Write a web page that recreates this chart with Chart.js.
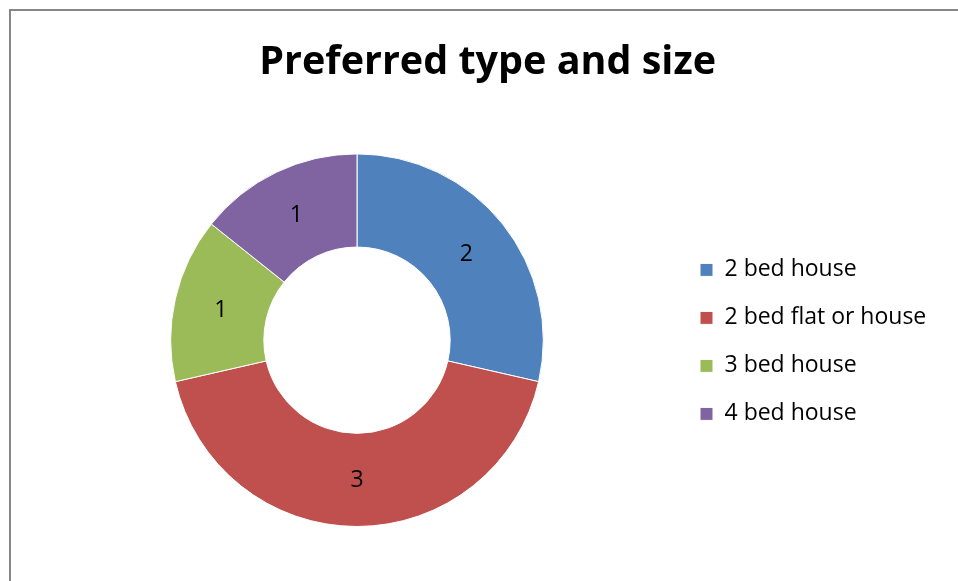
<!DOCTYPE html>
<html lang="en">
<head>
    <meta charset="UTF-8">
    <title>Preferred type and size</title>
    <script src="https://cdn.jsdelivr.net/npm/chart.js"></script>
    <style>
        html, body { margin: 0; padding: 0; background: #fff; overflow: hidden; }
        #frame {
            position: absolute; left: 9px; top: 9px;
            width: 1000px; height: 1000px;
            border-top: 2px solid #878787; border-left: 2px solid #878787;
        }
        #wrap { position: absolute; left: 0; top: 0; width: 958px; height: 581px; }
    </style>
</head>
<body>
    <div id="frame"></div>
    <div id="wrap"><canvas id="chart"></canvas></div>

    <script>
        // Data
        const categories = ['2 bed house', '2 bed flat or house', '3 bed house', '4 bed house'];
        const counts = [2, 3, 1, 1];
        const sliceColors = ['#4F81BD', '#C0504D', '#9BBB59', '#8064A2'];

        const FONT = 'Open Sans';
        const legendSize = 23;
        const legendBox = 13;
        const legendPad = 25;

        // work out right padding so legend squares land at x=700
        const mctx = document.createElement('canvas').getContext('2d');
        mctx.font = legendSize + 'px "' + FONT + '"';
        const textW = Math.max(...categories.map(c => mctx.measureText(c).width));
        const padRight = Math.max(0, 958 - 700 - legendBox - legendSize / 2 - textW - 10);
        const chartRight = 700 - legendPad;
        const padLeft = 2 * 357 - chartRight;

        // value labels in the middle of each slice
        const sliceLabels = {
            id: 'sliceLabels',
            afterDatasetsDraw(chart) {
                const ctx = chart.ctx;
                const meta = chart.getDatasetMeta(0);
                ctx.save();
                ctx.font = '23px "' + FONT + '"';
                ctx.fillStyle = '#000';
                ctx.textAlign = 'center';
                ctx.textBaseline = 'middle';
                meta.data.forEach((arc, i) => {
                    const p = arc.tooltipPosition();
                    ctx.fillText(String(counts[i]), p.x, p.y + 1);
                });
                ctx.restore();
            }
        };

        new Chart(document.getElementById('chart'), {
            type: 'doughnut',
            data: {
                labels: categories,
                datasets: [{
                    data: counts,
                    backgroundColor: sliceColors,
                    borderColor: '#ffffff',
                    borderWidth: 1
                }]
            },
            options: {
                responsive: true,
                maintainAspectRatio: false,
                animation: false,
                cutout: '50%',
                layout: {
                    padding: { left: padLeft, right: padRight, top: 0, bottom: 54 }
                },
                plugins: {
                    title: {
                        display: true,
                        text: 'Preferred type and size',
                        color: '#000',
                        font: { family: FONT, size: 39.5, weight: 'bold' },
                        padding: { top: 39, bottom: 67 }
                    },
                    legend: {
                        position: 'right',
                        align: 'start',
                        // empty title just pushes the items down to the middle
                        title: {
                            display: true,
                            text: '',
                            font: { size: 12 },
                            padding: { top: 0, bottom: 219 }
                        },
                        labels: {
                            color: '#000',
                            font: { family: FONT, size: legendSize },
                            boxWidth: legendBox,
                            boxHeight: legendBox,
                            padding: legendPad
                        }
                    },
                    tooltip: { enabled: false }
                }
            },
            plugins: [sliceLabels]
        });
    </script>
</body>
</html>
